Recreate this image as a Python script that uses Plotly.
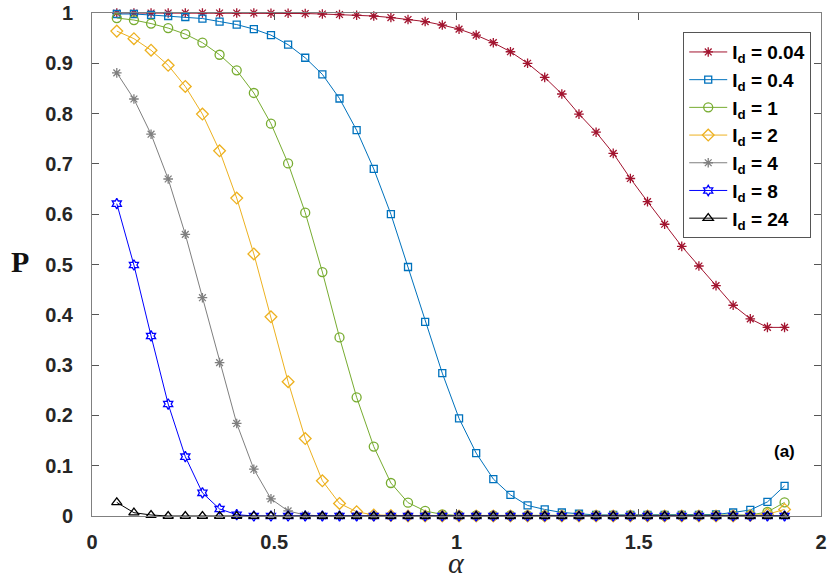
import plotly.graph_objects as go

alpha = [0.068, 0.115, 0.162, 0.209, 0.256, 0.303, 0.350, 0.397, 0.444, 0.491,
         0.538, 0.585, 0.632, 0.679, 0.726, 0.773, 0.820, 0.867, 0.914, 0.961,
         1.007, 1.054, 1.101, 1.148, 1.195, 1.242, 1.289, 1.336, 1.383, 1.430,
         1.477, 1.524, 1.571, 1.618, 1.665, 1.712, 1.759, 1.806, 1.853, 1.900]

p_004 = [1.000, 1.000, 1.000, 1.000, 1.000, 1.000, 1.000, 1.000, 1.000, 0.9995,
         0.9995, 0.999, 0.998, 0.997, 0.9955, 0.994, 0.991, 0.987, 0.983, 0.976,
         0.968, 0.956, 0.941, 0.923, 0.900, 0.872, 0.839, 0.799, 0.763, 0.721,
         0.671, 0.625, 0.580, 0.536, 0.497, 0.458, 0.419, 0.392, 0.375, 0.375]

p_04 = [0.998, 0.998, 0.996, 0.994, 0.992, 0.989, 0.983, 0.977, 0.968, 0.956,
        0.937, 0.911, 0.878, 0.830, 0.767, 0.690, 0.600, 0.495, 0.386, 0.284,
        0.194, 0.125, 0.0735, 0.042, 0.021, 0.013, 0.007, 0.0045, 0.002, 0.002,
        0.002, 0.002, 0.002, 0.002, 0.002, 0.003, 0.007, 0.012, 0.028, 0.060]

p_1 = [0.990, 0.986, 0.979, 0.970, 0.958, 0.941, 0.917, 0.886, 0.841, 0.780,
       0.701, 0.603, 0.485, 0.355, 0.236, 0.138, 0.0656, 0.0265, 0.010, 0.003,
       0.001, 0.001, 0.001, 0.001, 0.001, 0.001, 0.001, 0.001, 0.001, 0.001,
       0.001, 0.001, 0.001, 0.001, 0.001, 0.001, 0.001, 0.002, 0.008, 0.027]

p_2 = [0.964, 0.949, 0.926, 0.896, 0.854, 0.799, 0.726, 0.632, 0.521, 0.396,
       0.267, 0.154, 0.070, 0.025, 0.0085, 0.002, 0.001, 0.000, 0.000, 0.000,
       0.000, 0.000, 0.000, 0.000, 0.000, 0.000, 0.000, 0.000, 0.000, 0.000,
       0.000, 0.000, 0.000, 0.000, 0.000, 0.000, 0.000, 0.001, 0.0035, 0.013]

p_4 = [0.881, 0.829, 0.759, 0.670, 0.560, 0.434, 0.305, 0.184, 0.093, 0.034,
       0.010, 0.002, 0.000, 0.000, 0.000, 0.000, 0.000, 0.000, 0.000, 0.000,
       0.000, 0.000, 0.000, 0.000, 0.000, 0.000, 0.000, 0.000, 0.000, 0.000,
       0.000, 0.000, 0.000, 0.000, 0.000, 0.000, 0.000, 0.000, 0.000, 0.000]

p_8 = [0.621, 0.499, 0.358, 0.2225, 0.118, 0.046, 0.014, 0.0026, 0.000, 0.000,
       0.000, 0.000, 0.000, 0.000, 0.000, 0.000, 0.000, 0.000, 0.000, 0.000,
       0.000, 0.000, 0.000, 0.000, 0.000, 0.000, 0.000, 0.000, 0.000, 0.000,
       0.000, 0.000, 0.000, 0.000, 0.000, 0.000, 0.000, 0.000, 0.000, 0.000]

p_24 = [0.027, 0.0066, 0.002, 0.000, 0.000, 0.000, 0.000, 0.000, 0.000, 0.000,
        0.000, 0.000, 0.000, 0.000, 0.000, 0.000, 0.000, 0.000, 0.000, 0.000,
        0.000, 0.000, 0.000, 0.000, 0.000, 0.000, 0.000, 0.000, 0.000, 0.000,
        0.000, 0.000, 0.000, 0.000, 0.000, 0.000, 0.000, 0.000, 0.000, 0.000]

labels = ["0.04", "0.4", "1", "2", "4", "8", "24"]
series = [p_004, p_04, p_1, p_2, p_4, p_8, p_24]
colors = ["#A2142F", "#0072BD", "#77AC30", "#EDB120", "#7F7F7F", "#0000FF", "#000000"]
symbols = ["asterisk-open", "square-open", "circle-open", "diamond-open",
           "asterisk-open", "hexagram-open", "triangle-up-open"]
sizes = [8, 7, 9, 9, 8, 8, 9]

x_ticks = [0, 0.5, 1, 1.5, 2]
x_tick_text = ["0", "0.5", "1", "1.5", "2"]
y_ticks = [0, 0.1, 0.2, 0.3, 0.4, 0.5, 0.6, 0.7, 0.8, 0.9, 1]
y_tick_text = ["0", "0.1", "0.2", "0.3", "0.4", "0.5", "0.6", "0.7", "0.8", "0.9", "1"]

fig = go.Figure()
for lab, ys, c, s, sz in zip(labels, series, colors, symbols, sizes):
    fig.add_trace(go.Scatter(
        x=alpha, y=ys, mode="lines+markers",
        name="I<sub>d</sub> = " + lab,
        line=dict(color=c, width=1),
        marker=dict(symbol=s, size=sz, color=c, line=dict(color=c, width=1.3)),
        cliponaxis=False,
    ))

tick_font = dict(family="Liberation Sans, Arial, sans-serif", size=20, color="#262626", weight="bold")

fig.update_layout(
    width=830, height=579,
    margin=dict(l=92, r=9, t=13, b=63, autoexpand=False),
    paper_bgcolor="white", plot_bgcolor="white",
    showlegend=True,
    legend=dict(
        x=0.811, y=0.962, xanchor="left", yanchor="top",
        bgcolor="white", bordercolor="#555555", borderwidth=1,
        font=dict(family="Liberation Sans, Arial, sans-serif", size=19, color="black", weight="bold"),
        itemwidth=38, tracegroupgap=0,
    ),
    xaxis=dict(
        range=[0, 2], tickvals=x_ticks, ticktext=x_tick_text,
        ticks="inside", ticklen=7, tickcolor="#555555", tickwidth=1,
        showline=True, linecolor="#808080", linewidth=1, mirror="ticks",
        showgrid=False, zeroline=False, tickfont=tick_font,
        ticklabelstandoff=8, automargin=False,
    ),
    yaxis=dict(
        range=[0, 1], tickvals=y_ticks, ticktext=y_tick_text,
        ticks="inside", ticklen=7, tickcolor="#555555", tickwidth=1,
        showline=True, linecolor="#808080", linewidth=1, mirror="ticks",
        showgrid=False, zeroline=False, tickfont=tick_font,
        ticklabelstandoff=14, automargin=False,
    ),
    annotations=[
        dict(x=1.9, y=0.128, xref="x", yref="y", text="<b>(a)</b>", showarrow=False,
             font=dict(family="Liberation Sans, Arial, sans-serif", size=17, color="black")),
        dict(x=20, y=261, xref="paper", yref="paper", text="<b>P</b>", showarrow=False,
             xanchor="center", yanchor="middle",
             font=dict(family="Liberation Serif, Times New Roman, serif", size=30, color="#111111")),
        dict(x=456, y=562, xref="paper", yref="paper", text="<i>α</i>", showarrow=False,
             xanchor="center", yanchor="middle",
             font=dict(family="Liberation Serif, Times New Roman, serif", size=30, color="#262626")),
    ],
)

# convert pixel positions of the title annotations to paper coordinates
pl, pr, pt, pb = 92, 830 - 9, 13, 579 - 63
for ann in fig.layout.annotations[1:]:
    px, py = ann.x, ann.y
    ann.x = (px - pl) / (pr - pl)
    ann.y = (pb - py) / (pb - pt)

fig.write_html("out.html", config={"displayModeBar": False},
               post_script="document.body.style.margin='0';")
